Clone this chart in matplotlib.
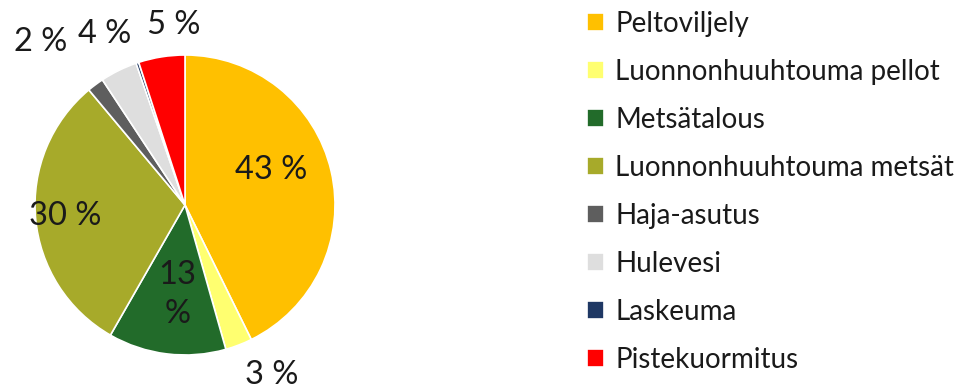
import numpy as np
import matplotlib
matplotlib.use("Agg")
import matplotlib.pyplot as plt

plt.rcParams['font.family'] = ['Lato', 'DejaVu Sans']

# data (share of load, %)
categories = ['Peltoviljely', 'Luonnonhuuhtouma pellot', 'Metsätalous',
              'Luonnonhuuhtouma metsät', 'Haja-asutus', 'Hulevesi',
              'Laskeuma', 'Pistekuormitus']
values = [42.8, 2.9, 12.7, 30.7, 1.8, 4.0, 0.3, 5.0]
labels = ['43 %', '3 %', '13\n%', '30 %', '2 %', '4 %', '', '5 %']
colors = ['#FFC000', '#FFFF70', '#226B2A', '#A7AA2A', '#5E5E5E',
          '#DEDEDE', '#1F3864', '#FF0000']

# label placement: radial distance and angle nudge per slice
label_dist = [0.62, 1.27, 0.60, 0.80, 1.45, 1.26, 1.2, 1.20]
label_nudge = [9, 6, 2, 0, 5, -1, 0, -5.5]

fig = plt.figure(figsize=(9.61, 3.91), dpi=100)
W, H = 961, 391
cx, cy, side = 185, 391 - 205, 390
ax = fig.add_axes([(cx - side / 2) / W, (cy - side / 2) / H, side / W, side / H])

wedges, _ = ax.pie(values, colors=colors, startangle=90, counterclock=False,
                   radius=1.0, wedgeprops=dict(edgecolor='white', linewidth=1.2))
ax.set_xlim(-1.3, 1.3)
ax.set_ylim(-1.3, 1.3)
ax.set_aspect('equal')
ax.axis('off')

for w, lab, d, nud in zip(wedges, labels, label_dist, label_nudge):
    if not lab:
        continue
    ang = np.deg2rad((w.theta1 + w.theta2) / 2 + nud)
    ax.text(d * np.cos(ang), d * np.sin(ang), lab, ha='center', va='center',
            fontsize=23.5, color='#1a1a1a', linespacing=1.4, clip_on=False)

leg = fig.legend(wedges, categories, loc='upper left',
                 bbox_to_anchor=(576 / W, 1.0), frameon=False,
                 fontsize=20, handlelength=0.62, handleheight=0.62,
                 handletextpad=0.4, labelspacing=0.79, borderaxespad=0)
for t in leg.get_texts():
    t.set_color('#1a1a1a')

fig.savefig('out.png', dpi=100)
